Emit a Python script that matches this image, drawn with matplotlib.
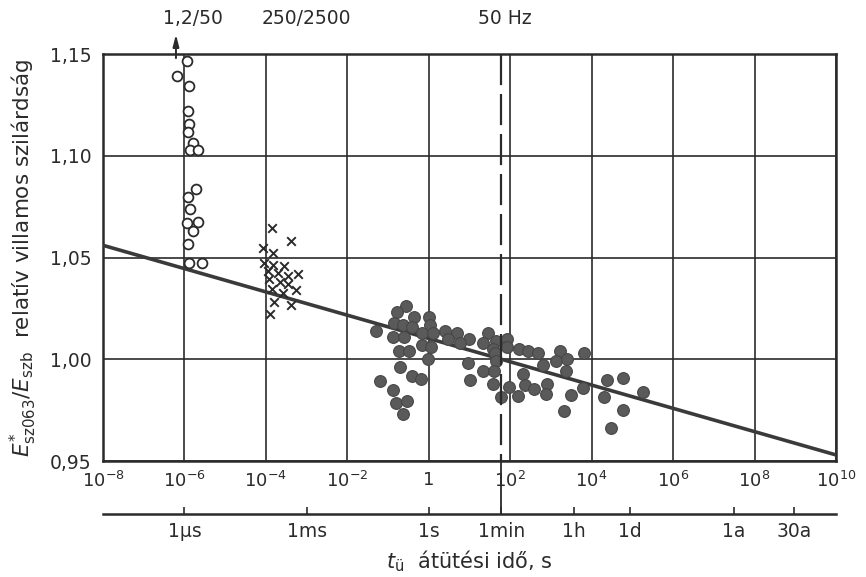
import matplotlib
matplotlib.use("Agg")
import matplotlib.pyplot as plt
import matplotlib.transforms as mtransforms
from matplotlib.lines import Line2D
import numpy as np

# open circles: 1,2/50 impulse tests (log10 t, ratio)
imp_logt = [-5.94, -6.18, -5.89, -5.91, -5.89, -5.91, -5.79, -5.86, -5.67,
            -5.72, -5.91, -5.86, -5.94, -5.67, -5.79, -5.91, -5.89, -5.57]
imp_val = [1.1465, 1.1391, 1.1342, 1.1219, 1.1154, 1.1115, 1.1065, 1.1026, 1.1026,
           1.0838, 1.0799, 1.0740, 1.0670, 1.0675, 1.0631, 1.0567, 1.0473, 1.0473]

# crosses: 250/2500 switching impulse
sw_logt = [-3.85, -3.38, -4.07, -3.82, -4.04, -3.82, -3.55, -3.95, -3.70, -3.45,
           -3.21, -3.92, -3.65, -3.45, -3.85, -3.58, -3.26, -3.80, -3.38, -3.90]
sw_val = [1.0647, 1.0583, 1.0549, 1.0524, 1.0475, 1.0465, 1.0460, 1.0435, 1.0425, 1.0410,
          1.0420, 1.0396, 1.0380, 1.0370, 1.0346, 1.0327, 1.0341, 1.0282, 1.0268, 1.0223]

# filled circles: 50 Hz tests
ac_logt = [-0.56, -0.78, -0.36, 0.01, -0.85, -0.63, -0.41, 0.03, -1.29, -0.16,
           0.11, 0.40, 0.70, 1.46, -0.87, -0.60, 0.48, 0.99, 1.34, 1.66,
           1.93, 0.77, -0.16, 0.06, 1.58, 1.93, 2.22, 2.44, 2.69, 3.23,
           3.82, -0.73, -0.48, 1.63, -0.01, 1.66, 3.13, 3.40, 0.97, 2.81,
           -0.70, 1.34, 1.61, 2.32, 3.38, -0.41, -0.19, -1.19, 1.02, 4.38,
           4.78, 1.58, 2.91, 2.37, 1.98, 2.59, 3.79, -0.87, 2.88, 3.50,
           2.20, 4.31, 1.78, -0.80, -0.53, 4.78, 3.33, -0.63, 4.48, 5.27]
ac_val = [1.026, 1.023, 1.021, 1.021, 1.018, 1.017, 1.016, 1.017, 1.014, 1.013,
          1.013, 1.014, 1.013, 1.013, 1.011, 1.011, 1.010, 1.010, 1.008, 1.009,
          1.010, 1.008, 1.007, 1.006, 1.005, 1.006, 1.005, 1.004, 1.003, 1.004,
          1.003, 1.004, 1.004, 1.003, 1.000, 0.999, 0.999, 1.000, 0.998, 0.997,
          0.996, 0.994, 0.994, 0.993, 0.994, 0.992, 0.9905, 0.9895, 0.990, 0.990,
          0.991, 0.988, 0.988, 0.9875, 0.9866, 0.9856, 0.986, 0.985, 0.983, 0.9826,
          0.982, 0.9816, 0.9816, 0.9787, 0.9796, 0.975, 0.9747, 0.973, 0.966, 0.984]

# regression line end points
fit_t = [1e-8, 1e10]
fit_val = [1.056, 0.953]

x_ticks = [1e-8, 1e-6, 1e-4, 1e-2, 1, 1e2, 1e4, 1e6, 1e8, 1e10]
x_labels = [r"$10^{-8}$", r"$10^{-6}$", r"$10^{-4}$", r"$10^{-2}$", "1",
            r"$10^{2}$", r"$10^{4}$", r"$10^{6}$", r"$10^{8}$", r"$10^{10}$"]
y_ticks = [0.95, 1.00, 1.05, 1.10, 1.15]
y_labels = ["0,95", "1,00", "1,05", "1,10", "1,15"]

time_ticks = [1e-6, 1e-3, 1, 60, 3600, 86400, 3.156e7, 9.47e8]
time_labels = ["1µs", "1ms", "1s", "1min", "1h", "1d", "1a", "30a"]

top_labels = ["1,2/50", "250/2500", "50 Hz"]
top_label_t = [1.6e-6, 1e-3, 75]

plt.rcParams["font.family"] = ["DejaVu Sans"]
plt.rcParams["mathtext.fontset"] = "dejavusans"

ink = "#2b2b2b"
fig = plt.figure(figsize=(8.66, 5.77), dpi=100)
fig.patch.set_facecolor("white")

ax = fig.add_axes([0.1189, 0.2010, 0.8464, 0.7054])
ax.set_xscale("log")
ax.set_xlim(1e-8, 1e10)
ax.set_ylim(0.95, 1.15)
ax.set_xticks(x_ticks)
ax.set_xticklabels(x_labels)
ax.minorticks_off()
ax.set_yticks(y_ticks)
ax.set_yticklabels(y_labels)
ax.tick_params(axis="both", length=0, colors=ink)
ax.tick_params(axis="x", pad=7, labelsize=13)
ax.tick_params(axis="y", pad=8, labelsize=13.5)
ax.grid(True, color=ink, linewidth=1.2)
ax.set_axisbelow(True)
for sp in ax.spines.values():
    sp.set_linewidth(1.8)
    sp.set_color(ink)

ax.plot(fit_t, fit_val, color="#3a3a3a", linewidth=2.6, solid_capstyle="butt", zorder=3)
ax.scatter(np.power(10.0, ac_logt), ac_val, s=72, facecolor="#5a5a5a",
           edgecolor="#474747", linewidth=0.8, zorder=4)
ax.scatter(np.power(10.0, imp_logt), imp_val, s=50, facecolor="white",
           edgecolor=ink, linewidth=1.3, zorder=4)
ax.scatter(np.power(10.0, sw_logt), sw_val, s=38, marker="x", color=ink,
           linewidth=1.4, zorder=4)

ax.set_ylabel(r"$E^{*}_{\mathrm{sz063}}/E_{\mathrm{szb}}$  relatív villamos szilárdság",
              fontsize=15.5, color=ink)
ax.yaxis.set_label_coords(-0.087, 0.5)

# 1 min marker: dashed inside the plot, solid down to the time axis
blend = mtransforms.blended_transform_factory(ax.transData, fig.transFigure)
fig.add_artist(Line2D([60, 60], [1 - 54 / 577, 1 - 461 / 577], transform=blend,
                      color=ink, linewidth=1.6, dashes=(14, 4)))
fig.add_artist(Line2D([60, 60], [1 - 461 / 577, 1 - 514 / 577], transform=blend,
                      color=ink, linewidth=1.3))

# labels above the plot
top_tr = mtransforms.blended_transform_factory(ax.transData, ax.transAxes)
for lab, t in zip(top_labels, top_label_t):
    ax.text(t, 1.088, lab, transform=top_tr, ha="center", va="center",
            fontsize=13.5, color=ink)
ax.annotate("", xy=(6.2e-7, 1.055), xytext=(6.2e-7, 0.983),
            xycoords=top_tr, textcoords=top_tr,
            arrowprops=dict(arrowstyle="-|>,head_width=0.18,head_length=0.7",
                            color=ink, linewidth=1.4), annotation_clip=False)

# secondary time axis
ax2 = fig.add_axes([0.1189, 1 - 514 / 577, 0.8464, 0.0001])
ax2.set_facecolor("none")
ax2.set_xscale("log")
ax2.set_xlim(1e-8, 1e10)
ax2.set_yticks([])
for side in ["top", "left", "right"]:
    ax2.spines[side].set_visible(False)
ax2.spines["bottom"].set_linewidth(1.8)
ax2.spines["bottom"].set_color(ink)
ax2.set_xticks(time_ticks)
ax2.set_xticklabels(time_labels)
ax2.minorticks_off()
ax2.tick_params(axis="x", direction="in", length=5, width=1.2, colors=ink,
                labelsize=13.5, pad=6)
ax2.set_xlabel(r"$t_{\mathrm{ü}}$  átütési idő, s", fontsize=15, color=ink, labelpad=5)

fig.savefig("out.png", dpi=100)
